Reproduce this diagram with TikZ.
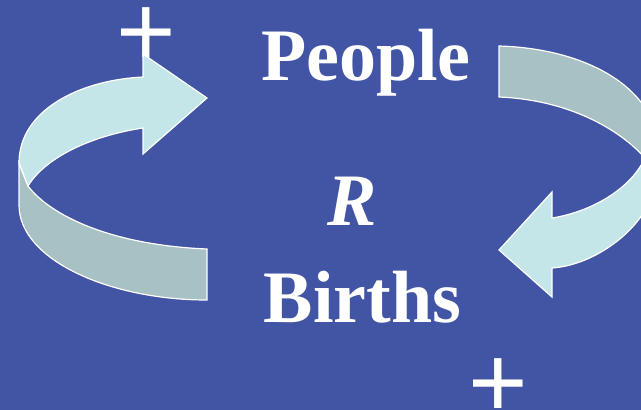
\documentclass[tikz,border=0pt]{standalone}
\usepackage{fontspec}
\setmainfont{Liberation Serif}
\newfontfamily\plusfont{Liberation Sans}
\definecolor{bgblue}{RGB}{66,84,164}
\definecolor{facelight}{RGB}{197,230,232}
\definecolor{facedark}{RGB}{167,193,196}
\newcommand{\tightplus}{\raisebox{-0.1em}[0.48em][0pt]{+}}
\tikzset{
  lightface/.style={fill=facelight, draw=white, line width=1.2pt, line join=miter},
  darkface/.style={fill=facedark, draw=white, line width=1.2pt, line join=miter},
  bigword/.style={text=white, inner sep=0pt, anchor=base, font=\fontsize{74}{80}\selectfont\bfseries},
  plussign/.style={text=white, inner sep=0pt, anchor=south, font=\plusfont\fontsize{102}{110}\selectfont}
}
\begin{document}
\begin{tikzpicture}[x=1pt,y=-1pt]
\useasboundingbox (0,0) rectangle (641,410);
\fill[bgblue] (0,0) rectangle (641,410);
\clip (0,0) rectangle (641,410);

% plus signs
\node[plussign] (plustop) at (146,56) {\tightplus};
\node[plussign] (plusbottom) at (498,407.5) {\tightplus};

% left arrow (dark back strip, then light face)
\path[darkface] (19,163) -- (28,186)
  .. controls (50,215) and (110,245) .. (207,249)
  -- (207,300)
  .. controls (110,300) and (19,260) .. (19,205) -- cycle;
\path[lightface] (19,163)
  .. controls (19,110) and (80,80) .. (143,77)
  -- (143,54) -- (207,98) -- (143,154) -- (143,128)
  .. controls (90,136) and (45,158) .. (28,186) -- cycle;

% right arrow (dark back strip, then light face)
\path[darkface] (499,46)
  .. controls (570,48) and (635,75) .. (654,125)
  -- (654,181) -- (645,158)
  .. controls (620,130) and (570,100) .. (499,97) -- cycle;
\path[lightface] (645,158)
  .. controls (630,190) and (590,212) .. (552,218)
  -- (552,192) -- (499,250) -- (552,297) -- (552,268)
  .. controls (600,265) and (654,220) .. (654,181) -- cycle;

% words
\node[bigword] (people) at (366,80) {People};
\node[bigword] (births) at (362.5,322) {Births};
\node[bigword, font=\fontsize{74}{80}\selectfont\bfseries\itshape] (rate) at (352,225) {R};
\end{tikzpicture}
\end{document}
